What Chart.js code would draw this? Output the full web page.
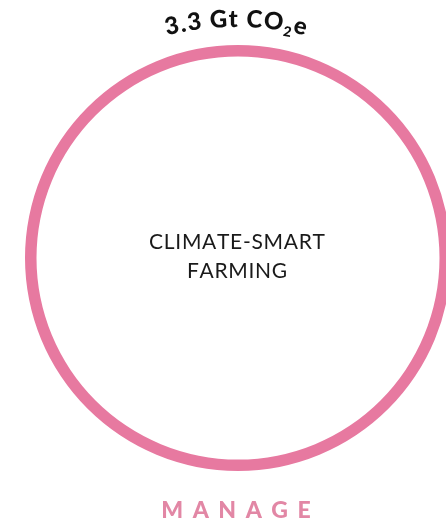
<!DOCTYPE html>
<html>
<head>
<meta charset="utf-8">
<script src="https://cdn.jsdelivr.net/npm/chart.js@4.4.1/dist/chart.umd.min.js"></script>
<style>
  html, body { margin: 0; padding: 0; background: #ffffff; overflow: hidden; }
  #wrap { position: relative; width: 446px; height: 525px; }
</style>
</head>
<body>
<div id="wrap"><canvas id="c" width="446" height="525"></canvas></div>
<script>
// ---- data ----
const categories = ['CLIMATE-SMART FARMING'];
const centerLines = ['CLIMATE-SMART', 'FARMING'];
const values = [3.3];
const valueUnitParts = [
  { t: '3.3 Gt CO', sub: false },
  { t: '2', sub: true },
  { t: 'e', sub: false }
];
const groupLabel = ['MANAGE'];

const ringColor = '#e779a0';
const labelColor = '#e287a5';
const FONT = 'Lato, "Open Sans", sans-serif';

function spacedText(ctx, text, cx, y, gap) {
  const chars = [...text];
  const ws = chars.map(ch => ctx.measureText(ch).width);
  const total = ws.reduce((s, w) => s + w, 0) + gap * (chars.length - 1);
  let x = cx - total / 2;
  ctx.textAlign = 'left';
  chars.forEach((ch, i) => {
    ctx.fillText(ch, x, y);
    x += ws[i] + gap;
  });
}

const textPlugin = {
  id: 'ringText',
  afterDraw(chart) {
    const ctx = chart.ctx;
    const arc = chart.getDatasetMeta(0).data[0];
    const cx = arc.x, cy = arc.y, r = arc.outerRadius;
    ctx.save();
    ctx.textBaseline = 'alphabetic';
    // center label
    ctx.fillStyle = '#1a1a1a';
    ctx.font = '400 21px ' + FONT;
    spacedText(ctx, centerLines[0], cx - 1, cy - 9, 0.7);
    spacedText(ctx, centerLines[1], cx - 1, cy + 20, 0.7);

    // curved value label above ring
    const R = 290;
    const gap = 1.2;
    const tcx = cx - 2, tBase = cy - r - 18;
    const ocx = tcx, ocy = tBase + R;
    const chars = [];
    valueUnitParts.forEach(p => {
      const label = p.t.replace('3.3', String(values[0]));
      for (const ch of label) chars.push({ ch, sub: p.sub });
    });
    const fontFor = c => (c.sub ? '900 14px ' : '900 24px ') + FONT;
    chars.forEach(c => {
      ctx.font = fontFor(c);
      c.w = ctx.measureText(c.ch).width;
    });
    const W = chars.reduce((s, c) => s + c.w, 0) + gap * (chars.length - 1);
    let cum = 0;
    ctx.fillStyle = '#111111';
    chars.forEach(c => {
      const a = (cum + c.w / 2 - W / 2) / R;
      cum += c.w + gap;
      ctx.save();
      ctx.translate(ocx + R * Math.sin(a), ocy - R * Math.cos(a));
      ctx.rotate(a);
      ctx.font = fontFor(c);
      ctx.textAlign = 'center';
      ctx.fillText(c.ch, 0, c.sub ? 5 : 0);
      ctx.restore();
    });

    // group label below ring
    ctx.fillStyle = labelColor;
    ctx.font = '900 23px ' + FONT;
    spacedText(ctx, groupLabel[0], cx - 2, 518, 9.5);
    ctx.restore();
  }
};

new Chart(document.getElementById('c'), {
  type: 'doughnut',
  data: {
    labels: categories,
    datasets: [{
      data: values,
      backgroundColor: [ringColor],
      borderWidth: 0,
      hoverOffset: 0
    }]
  },
  options: {
    responsive: false,
    animation: false,
    events: [],
    radius: 213,
    cutout: '94.6%',
    layout: { padding: { left: 30, right: 0, top: 45, bottom: 54 } },
    plugins: {
      legend: { display: false },
      tooltip: { enabled: false },
      title: { display: false }
    }
  },
  plugins: [textPlugin]
});
</script>
</body>
</html>
